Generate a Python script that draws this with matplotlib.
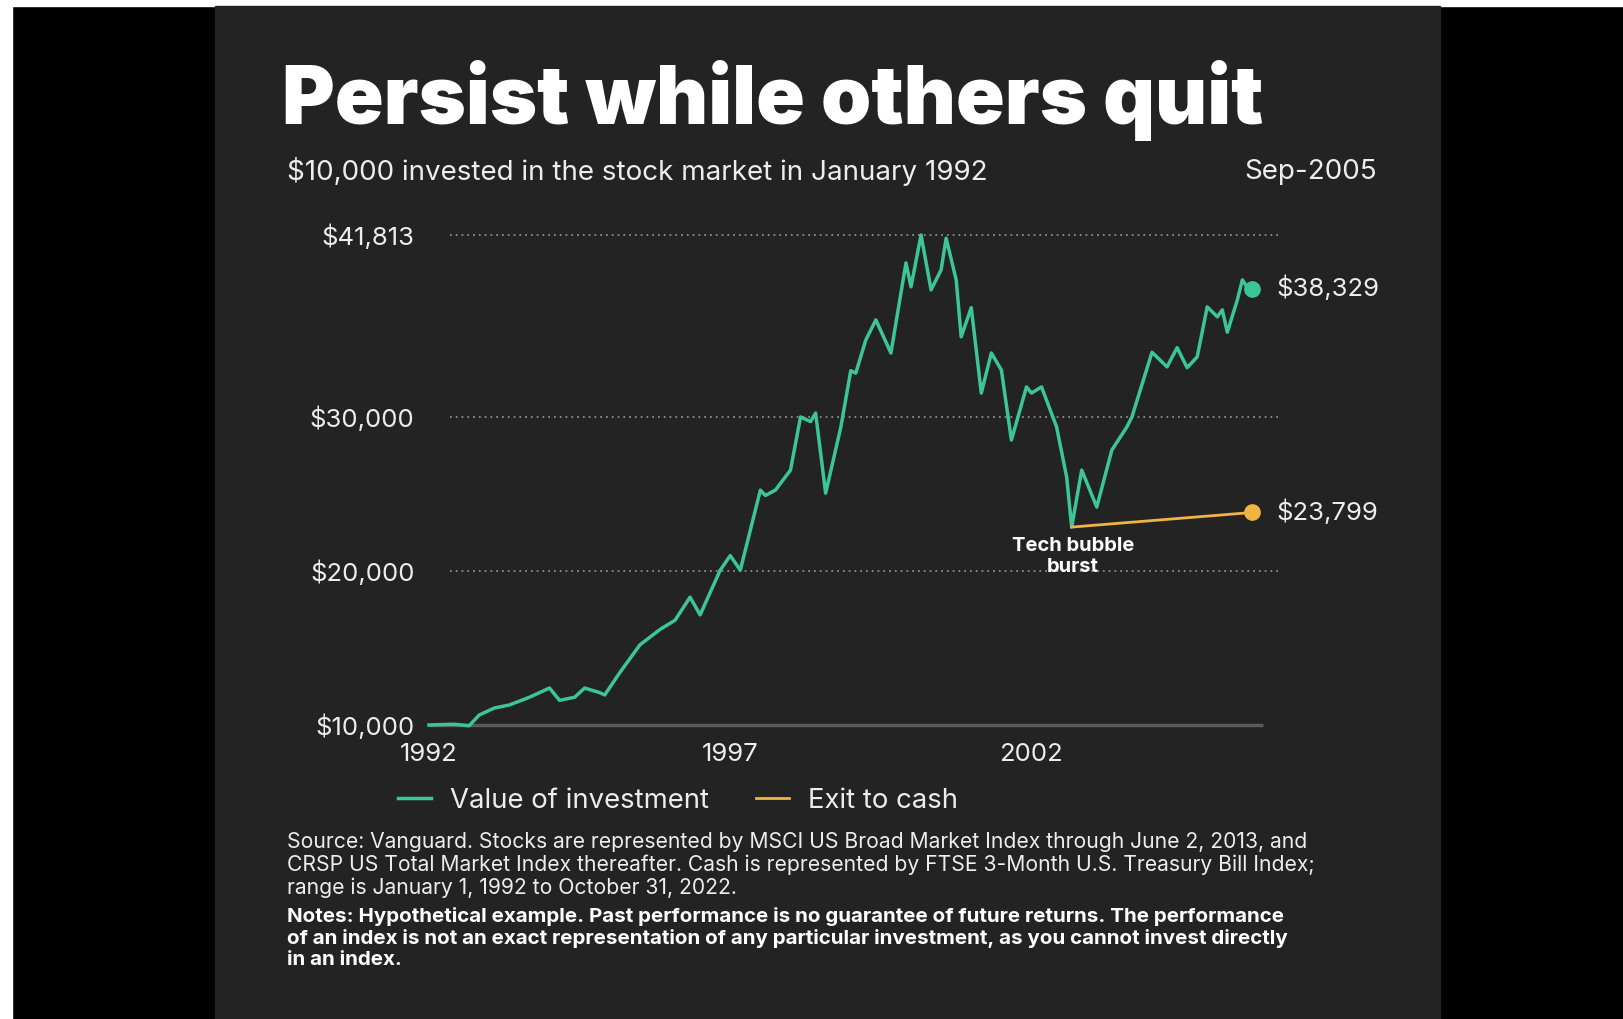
import matplotlib.pyplot as plt
from matplotlib.patches import Rectangle

# month-end value of $10,000 put into US stocks in January 1992
months = ["1992-01", "1992-06", "1992-09", "1992-11", "1993-02", "1993-05", "1993-09",
          "1994-01", "1994-03", "1994-06", "1994-08", "1994-11", "1994-12", "1995-03",
          "1995-07", "1995-11", "1996-02", "1996-05", "1996-07", "1996-11", "1997-01",
          "1997-03", "1997-07", "1997-08", "1997-10", "1998-01", "1998-03", "1998-05",
          "1998-06", "1998-08", "1998-11", "1999-01", "1999-02", "1999-04", "1999-06",
          "1999-09", "1999-12", "2000-01", "2000-03", "2000-05", "2000-07", "2000-08",
          "2000-10", "2000-11", "2001-01", "2001-03", "2001-05", "2001-07", "2001-09",
          "2001-12", "2002-01", "2002-03", "2002-06", "2002-08", "2002-09", "2002-11",
          "2003-02", "2003-05", "2003-08", "2003-09", "2004-01", "2004-04", "2004-06",
          "2004-08", "2004-10", "2004-12", "2005-02", "2005-03", "2005-04", "2005-06",
          "2005-07", "2005-08", "2005-09"]
portfolio = [10000, 10050, 9950, 10650, 11100, 11300, 11800,
             12400, 11600, 11800, 12400, 12100, 11950, 13400,
             15200, 16200, 16800, 18300, 17150, 20050, 21000,
             20050, 25250, 24900, 25250, 26550, 30000, 29700,
             30250, 25050, 29300, 33000, 32850, 35000, 36300,
             34150, 40000, 38450, 41813, 38250, 39550, 41600,
             38900, 35200, 37100, 31550, 34150, 33050, 28500,
             31950, 31550, 31950, 29350, 26100, 22850, 26550,
             24150, 27850, 29350, 30000, 34200, 33250, 34500,
             33200, 33900, 37150, 36500, 36950, 35500, 37600,
             38900, 38400, 38329]

# selling everything at the bottom and sitting in T-bills
cash_months = ["2002-09", "2005-09"]
cash = [22850, 23799]

ytick_values = [10000, 20000, 30000, 41813]
ytick_labels = ["$10,000", "$20,000", "$30,000", "$41,813"]
xtick_years = [1992, 1997, 2002]

source_lines = [
    "Source: Vanguard. Stocks are represented by MSCI US Broad Market Index through June 2, 2013, and",
    "CRSP US Total Market Index thereafter. Cash is represented by FTSE 3-Month U.S. Treasury Bill Index;",
    "range is January 1, 1992 to October 31, 2022.",
]
note_lines = [
    "Notes: Hypothetical example. Past performance is no guarantee of future returns. The performance",
    "of an index is not an exact representation of any particular investment, as you cannot invest directly",
    "in an index.",
]

GREEN = "#3cc597"
ORANGE = "#f0b443"
PANEL = "#232323"
TEXT = "#ededed"
W, H = 1624, 1019


def to_year(m):
    y, mo = m.split("-")
    return int(y) + (int(mo) - 1) / 12


plt.rcParams["font.family"] = ["Inter", "DejaVu Sans"]

fig = plt.figure(figsize=(W / 100, H / 100), dpi=100, facecolor="black")
fig.patches.append(Rectangle((0, 0), 12 / W, 1, transform=fig.transFigure, color="white", zorder=-3))
fig.patches.append(Rectangle((0, 1 - 6 / H), 1, 6 / H, transform=fig.transFigure, color="white", zorder=-3))
fig.patches.append(Rectangle((215 / W, 0), 1225 / W, 1 - 6 / H, transform=fig.transFigure,
                             color=PANEL, zorder=-2))

ax = fig.add_axes([420 / W, 1 - 740 / H, 880 / W, 520 / H])
ax.set_facecolor("none")
px_per_year = 60.25
val_per_px = 1000 / 15.4
ax.set_xlim(1992 - 9 / px_per_year, 1992 + 871 / px_per_year)
ax.set_ylim(10000 - 15 * val_per_px, 41813 + 15 * val_per_px)
for s in ax.spines.values():
    s.set_visible(False)

for v in ytick_values[1:]:
    ax.hlines(v, 1992.35, 2006.1, colors="#8c8c8c", linestyles=(0, (1, 2.2)), lw=1.3, zorder=1)
ax.hlines(ytick_values[0], 1992.0, 2005.85, colors="#5a5a5a", lw=2.5, zorder=1)

x = [to_year(m) for m in months]
xc = [to_year(m) for m in cash_months]
ax.plot(x, portfolio, color=GREEN, lw=2.5, zorder=3, label="Value of investment")
ax.plot(xc, cash, color=ORANGE, lw=2.0, zorder=3, label="Exit to cash")
ax.plot(x[-1], portfolio[-1], "o", color=GREEN, ms=11, zorder=4)
ax.plot(xc[-1], cash[-1], "o", color=ORANGE, ms=11, zorder=4)

ax.annotate(f"${portfolio[-1]:,}", (x[-1], portfolio[-1]), xytext=(17, 0), textcoords="offset points",
            va="center", ha="left", color=TEXT, fontsize=18.5)
ax.annotate(f"${cash[-1]:,}", (xc[-1], cash[-1]), xytext=(17, 0), textcoords="offset points",
            va="center", ha="left", color=TEXT, fontsize=18.5)
ax.annotate("Tech bubble\nburst", (xc[0], cash[0]), xytext=(1, -21), textcoords="offset points",
            va="center", ha="center", multialignment="center", color="white",
            fontsize=14.5, fontweight="bold", linespacing=1.2)

ax.set_yticks(ytick_values, ytick_labels)
ax.set_xticks(xtick_years, [str(y) for y in xtick_years])
ax.tick_params(length=0, colors=TEXT, labelsize=18.5)
ax.tick_params(axis="y", pad=4)
ax.tick_params(axis="x", pad=2)

leg = fig.legend(loc="center left", bbox_to_anchor=(373 / W, 1 - 801 / H), ncol=2, frameon=False,
                 fontsize=19.8, handlelength=1.2, handletextpad=0.7, columnspacing=1.7,
                 labelcolor=TEXT)

fig.text(282 / W, 1 - 124 / H, "Persist while others quit", fontsize=58, fontweight=900,
         color="white", va="baseline", ha="left")
fig.text(287 / W, 1 - 172 / H, "$10,000 invested in the stock market in January 1992", fontsize=20,
         color=TEXT, va="center", ha="left")
fig.text(1377 / W, 1 - 172 / H, "Sep-2005", fontsize=20, color=TEXT, va="center", ha="right")

for i, line in enumerate(source_lines):
    fig.text(287 / W, 1 - (842 + 23 * i) / H, line, fontsize=15.2, color=TEXT, va="center", ha="left")
for i, line in enumerate(note_lines):
    fig.text(287 / W, 1 - (916 + 22 * i) / H, line, fontsize=14.8, fontweight="bold", color="white",
             va="center", ha="left")

fig.savefig("out.png", dpi=100, facecolor=fig.get_facecolor())
